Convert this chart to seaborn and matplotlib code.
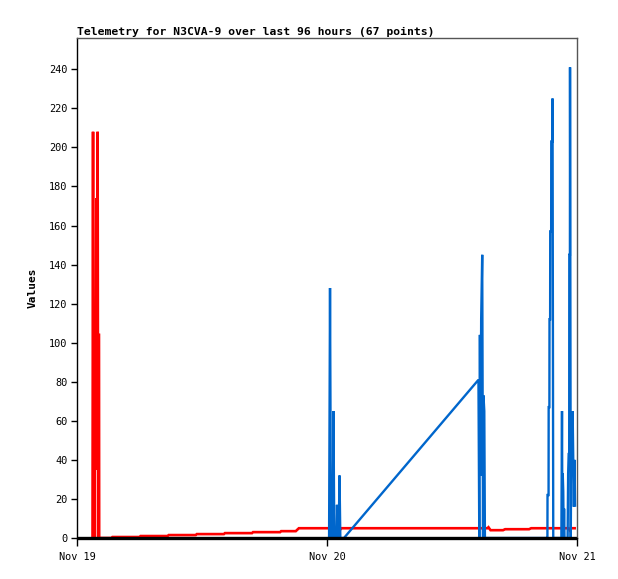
import pandas as pd
import matplotlib
matplotlib.use("Agg")
import matplotlib.pyplot as plt
import matplotlib.dates as mdates
import seaborn as sns

# hours after Nov 19 00:00
red_hours = [1.44, 1.49, 1.54, 1.59, 1.64, 1.68, 1.73, 1.78, 1.86, 1.92, 1.98, 2.03, 2.07, 2.11, 2.13,
             3.30, 3.40, 6.00, 6.10, 8.70, 8.80, 11.40, 11.50, 14.10, 14.20, 16.80, 16.90,
             19.50, 19.60, 21.00, 21.30, 24.40, 24.50, 25.20, 25.40, 39.40, 39.50, 39.70,
             40.90, 41.10, 43.40, 43.60, 47.20, 47.30, 47.45, 47.90]
red_values = [0, 0, 208, 0, 104, 0, 104, 35, 174, 35, 208, 0, 104, 104, 0,
              0, 0.5, 0.5, 1.0, 1.0, 1.5, 1.5, 2.0, 2.0, 2.5, 2.5, 3.0,
              3.0, 3.5, 3.5, 5.0, 5.0, 4.0, 4.0, 5.0, 5.0, 5.5, 4.0,
              4.0, 4.5, 4.5, 5.0, 5.0, 4.0, 5.0, 5.0]

blue_hours = [24.20, 24.29, 24.38, 24.55, 24.62, 24.70, 24.90, 24.96, 25.03, 25.12, 25.20, 25.28,
              25.63, 38.54, 38.62, 38.68, 38.74, 38.80, 38.90, 38.98, 39.02, 39.10, 39.16,
              45.12, 45.16, 45.17, 45.27, 45.28, 45.35, 45.36, 45.42, 45.43, 45.52, 45.53,
              45.64, 45.65, 45.72,
              46.50, 46.56, 46.60, 46.63, 46.68, 46.72, 46.76, 46.80,
              47.10, 47.15, 47.20, 47.25, 47.26, 47.32, 47.33, 47.40, 47.45, 47.52, 47.58,
              47.64, 47.70, 47.76, 47.82]
blue_values = [0, 128, 0, 0, 65, 0, 0, 17, 0, 0, 32, 0,
               0, 81, 0, 104, 32, 112, 145, 0, 73, 65, 0,
               0, 0, 22, 22, 67, 67, 112, 112, 157, 157, 203,
               203, 225, 0,
               0, 65, 0, 33, 24, 0, 15, 0,
               0, 33, 43, 43, 145, 145, 241, 0, 48, 33, 65,
               40, 16, 40, 16]

zero_hours = [0, 48]
zero_values = [0, 0]

start = pd.Timestamp("2024-11-19")
red = pd.DataFrame({"time": start + pd.to_timedelta(red_hours, unit="h"), "value": red_values})
blue = pd.DataFrame({"time": start + pd.to_timedelta(blue_hours, unit="h"), "value": blue_values})
zero = pd.DataFrame({"time": start + pd.to_timedelta(zero_hours, unit="h"), "value": zero_values})

sns.set_style("white")
plt.rcParams.update({"text.color": "black", "axes.labelcolor": "black",
                     "xtick.color": "black", "ytick.color": "black"})
mono = "DejaVu Sans Mono"

fig = plt.figure(figsize=(6.18, 5.79), dpi=100)
ax = fig.add_axes([77 / 618, 1 - 538 / 579, 500 / 618, 500 / 579])

line_kw = dict(estimator=None, sort=False, ax=ax,
               solid_joinstyle="miter", solid_capstyle="butt")
sns.lineplot(data=red, x="time", y="value", color="#ff0000", linewidth=1.9, **line_kw)
sns.lineplot(data=blue, x="time", y="value", color="#0066cc", linewidth=1.7, **line_kw)
sns.lineplot(data=zero, x="time", y="value", color="black", linewidth=2.4,
             clip_on=False, **line_kw)

ax.set_xlim(start, start + pd.Timedelta(hours=48))
ax.set_ylim(0, 256)
ax.set_yticks(range(0, 241, 20))
ax.xaxis.set_major_locator(mdates.DayLocator())
ax.xaxis.set_major_formatter(mdates.DateFormatter("%b %d"))

for side in ["left", "bottom"]:
    ax.spines[side].set_color("black")
    ax.spines[side].set_linewidth(1.0)
for side in ["top", "right"]:
    ax.spines[side].set_color("#555555")
    ax.spines[side].set_linewidth(1.0)

ax.tick_params(axis="y", direction="out", length=4, width=1, pad=3, left=True, colors="black")
ax.tick_params(axis="x", direction="out", length=6, width=1, pad=4, bottom=True, colors="black")
for lab in ax.get_xticklabels() + ax.get_yticklabels():
    lab.set_fontfamily(mono)
    lab.set_fontsize(7.4)

ax.set_xlabel("")
ax.set_ylabel("Values", fontfamily=mono, fontweight="bold", fontsize=8, color="black")
ax.yaxis.set_label_coords(-0.078, 0.5)
ax.set_title("Telemetry for N3CVA-9 over last 96 hours (67 points)", loc="left",
             fontfamily=mono, fontweight="bold", fontsize=8.2, pad=2.5, color="black")

fig.savefig("out.png", dpi=100)
